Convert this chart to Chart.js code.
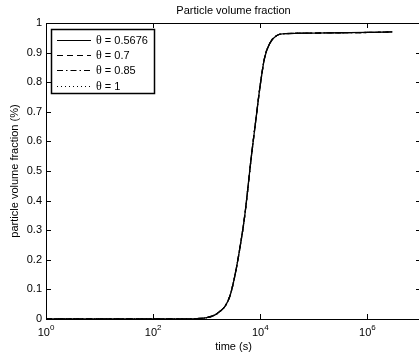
<!DOCTYPE html>
<html>
<head>
<meta charset="utf-8">
<script src="https://cdn.jsdelivr.net/npm/chart.js@4.4.1/dist/chart.umd.min.js"></script>
<style>
html,body{margin:0;padding:0;overflow:hidden;background:#fff;}
#wrap{width:424px;height:360px;}
</style>
</head>
<body>
<div id="wrap"><canvas id="c" width="424" height="360"></canvas></div>
<script>
// ---- data ----
const time = [1, 10, 100, 300, 500, 750, 1000, 1400, 1800, 2200, 2700, 3300, 4100, 5100, 6800, 8400, 9700, 12000, 15000, 20000, 30000, 100000, 300000, 1000000, 2900000];
const theta05676 = [0, 0, 0, 0, 0.0005, 0.002, 0.005, 0.013, 0.027, 0.043, 0.077, 0.14, 0.233, 0.346, 0.548, 0.683, 0.774, 0.881, 0.931, 0.957, 0.964, 0.966, 0.967, 0.968, 0.970];
const theta07    = [0, 0, 0, 0, 0.0005, 0.002, 0.005, 0.013, 0.027, 0.043, 0.077, 0.14, 0.233, 0.346, 0.548, 0.683, 0.774, 0.881, 0.931, 0.957, 0.964, 0.966, 0.967, 0.968, 0.970];
const theta085   = [0, 0, 0, 0, 0.0005, 0.002, 0.005, 0.013, 0.027, 0.043, 0.077, 0.14, 0.233, 0.346, 0.548, 0.683, 0.774, 0.881, 0.931, 0.957, 0.964, 0.966, 0.967, 0.968, 0.970];
const theta1     = [0, 0, 0, 0, 0.0005, 0.002, 0.005, 0.013, 0.027, 0.043, 0.077, 0.14, 0.233, 0.346, 0.548, 0.683, 0.774, 0.881, 0.931, 0.957, 0.964, 0.966, 0.967, 0.968, 0.970];
const seriesLabels = ['0.5676', '0.7', '0.85', '1'];
const xTickExps = [0, 2, 4, 6];
const yTicks = [0, 0.1, 0.2, 0.3, 0.4, 0.5, 0.6, 0.7, 0.8, 0.9, 1];
const titleText = 'Particle volume fraction';
const xLabel = 'time (s)';
const yLabel = 'particle volume fraction (%)';

const dashes = [[], [6, 4], [6, 3, 1.5, 3], [1, 3]];
const allSeries = [theta05676, theta07, theta085, theta1];

const datasets = allSeries.map((vals, i) => ({
  label: seriesLabels[i],
  data: time.map((t, k) => ({x: t, y: vals[k]})),
  borderColor: '#000',
  borderWidth: 1.3,
  borderDash: dashes[i],
  pointRadius: 0,
  fill: false,
  cubicInterpolationMode: 'monotone'
}));
datasets.reverse(); // solid drawn last (on top)

const FONT = '"Liberation Sans", Arial, sans-serif';

const decor = {
  id: 'decor',
  afterDraw(chart) {
    const ctx = chart.ctx, a = chart.chartArea;
    const xs = chart.scales.x, ys = chart.scales.y;
    ctx.save();
    ctx.strokeStyle = '#000';
    ctx.fillStyle = '#000';
    ctx.lineWidth = 1;
    // box
    ctx.strokeRect(Math.round(a.left) + 0.5, Math.round(a.top) + 0.5, Math.round(a.right - a.left), Math.round(a.bottom - a.top));
    const tl = 5;
    ctx.beginPath();
    xTickExps.forEach(e => {
      const px = Math.round(xs.getPixelForValue(Math.pow(10, e))) + 0.5;
      ctx.moveTo(px, a.bottom); ctx.lineTo(px, a.bottom - tl);
      ctx.moveTo(px, a.top); ctx.lineTo(px, a.top + tl);
    });
    yTicks.forEach(v => {
      const py = Math.round(ys.getPixelForValue(v)) + 0.5;
      ctx.moveTo(a.left, py); ctx.lineTo(a.left + tl, py);
      ctx.moveTo(a.right, py); ctx.lineTo(a.right - tl, py);
    });
    ctx.stroke();
    // y tick labels
    ctx.font = '11px ' + FONT;
    ctx.textAlign = 'right';
    ctx.textBaseline = 'middle';
    yTicks.forEach(v => {
      const py = ys.getPixelForValue(v);
      ctx.fillText(String(Math.round(v * 10) / 10), a.left - 4, py);
    });
    // x tick labels with superscripts
    xTickExps.forEach(e => {
      const px = xs.getPixelForValue(Math.pow(10, e));
      ctx.font = '11px ' + FONT;
      const w1 = ctx.measureText('10').width;
      ctx.font = '8px ' + FONT;
      const w2 = ctx.measureText(String(e)).width;
      const x0 = px - (w1 + w2) / 2;
      ctx.textAlign = 'left';
      ctx.textBaseline = 'alphabetic';
      ctx.font = '11px ' + FONT;
      ctx.fillText('10', x0, a.bottom + 17);
      ctx.font = '8px ' + FONT;
      ctx.fillText(String(e), x0 + w1, a.bottom + 11);
    });
    // title
    ctx.font = '11px ' + FONT;
    ctx.textAlign = 'center';
    ctx.textBaseline = 'middle';
    const cx = (a.left + a.right) / 2;
    ctx.fillText(titleText, cx, 11);
    ctx.fillText(xLabel, cx, 347);
    ctx.save();
    ctx.translate(15, (a.top + a.bottom) / 2);
    ctx.rotate(-Math.PI / 2);
    ctx.fillText(yLabel, 0, 0);
    ctx.restore();
    // legend
    const lx = 51, ly = 29, lw = 103, lh = 64;
    ctx.fillStyle = '#fff';
    ctx.fillRect(lx, ly, lw, lh);
    ctx.strokeStyle = '#000';
    ctx.lineWidth = 1.5;
    ctx.strokeRect(lx + 0.5, ly + 0.5, lw, lh);
    const rows = [40, 55, 70, 86];
    seriesLabels.forEach((lab, i) => {
      const y = rows[i] + 0.5;
      ctx.beginPath();
      ctx.lineWidth = 1.1;
      ctx.setLineDash(dashes[i]);
      ctx.moveTo(57, y); ctx.lineTo(91, y);
      ctx.stroke();
      ctx.setLineDash([]);
      ctx.fillStyle = '#000';
      ctx.textAlign = 'left';
      ctx.textBaseline = 'middle';
      ctx.font = '12px "Liberation Serif", serif';
      ctx.fillText('\u03b8', 96, rows[i] + 0.5);
      const tw = ctx.measureText('\u03b8').width;
      ctx.font = '11px ' + FONT;
      ctx.fillText(' = ' + lab, 96 + tw, rows[i] + 0.5);
    });
    ctx.restore();
  }
};

new Chart(document.getElementById('c'), {
  type: 'line',
  data: { datasets },
  options: {
    responsive: false,
    animation: false,
    layout: { padding: { left: 46, top: 23, right: 424 - 421, bottom: 360 - 319 } },
    plugins: { legend: { display: false }, title: { display: false }, tooltip: { enabled: false } },
    scales: {
      x: {
        type: 'logarithmic', min: 1, max: 1e7,
        grid: { display: false }, border: { display: false },
        ticks: { display: false },
        afterFit: s => { s.height = 0; }
      },
      y: {
        type: 'linear', min: 0, max: 1,
        grid: { display: false }, border: { display: false },
        ticks: { display: false },
        afterFit: s => { s.width = 0; }
      }
    }
  },
  plugins: [decor]
});
</script>
</body>
</html>
